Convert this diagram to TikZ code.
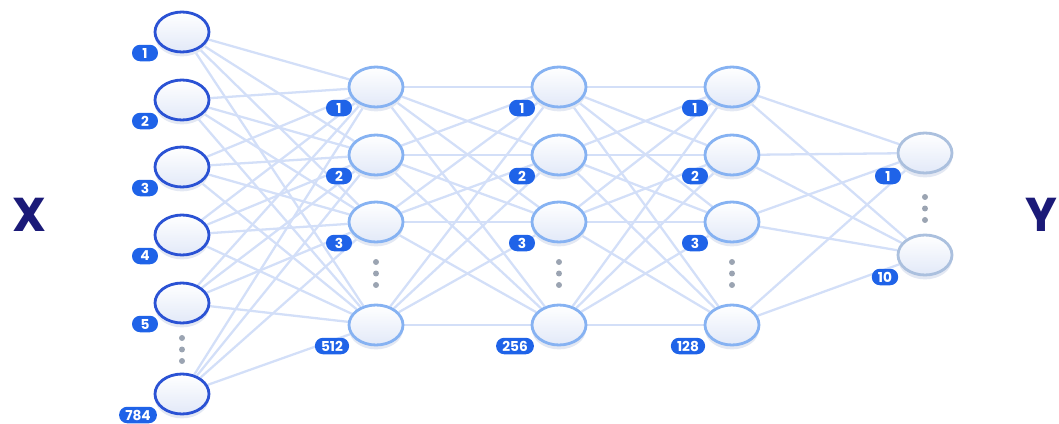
\documentclass[tikz,border=0pt]{standalone}
\usepackage{fontspec}
\setmainfont{Poppins}
\usepackage{tikz}
\usetikzlibrary{calc}
\usetikzlibrary{shapes.geometric}
\usetikzlibrary{shadows}
\usetikzlibrary{backgrounds}
\definecolor{inblue}{HTML}{2A52D4}
\definecolor{hidblue}{HTML}{86B2F2}
\definecolor{outblue}{HTML}{ABC0DE}
\definecolor{edgeblue}{HTML}{D3DFF8}
\definecolor{badgeblue}{HTML}{1F63E8}
\definecolor{navy}{HTML}{1B1A78}
\definecolor{dotgrey}{HTML}{9BA4B2}
\definecolor{nodebottom}{HTML}{E2E9F8}
\definecolor{shadowblue}{HTML}{E3E8F3}
\tikzset{%
  neuron/.style={ellipse, minimum width=1.08cm, minimum height=0.8cm, line width=1.6pt,
    top color=white, bottom color=nodebottom,
    drop shadow={shadow xshift=0pt, shadow yshift=-2.5pt, fill=shadowblue, opacity=1}},
  inneuron/.style={neuron, draw=inblue},
  hidneuron/.style={neuron, draw=hidblue},
  outneuron/.style={neuron, draw=outblue},
  edge/.style={draw=edgeblue, line width=1.3pt},
  badge/.style={rectangle, rounded corners=4.6pt, fill=badgeblue, text=white, minimum height=0.33cm,
    minimum width=0.52cm, inner xsep=3.5pt, inner ysep=0pt, font=\bfseries\fontsize{7.8}{7.8}\selectfont},
  -vdots-/.style={fill=dotgrey, circle, inner sep=0pt, minimum size=3.4pt}}

\begin{document}
\begin{tikzpicture}[x=0.02cm, y=-0.02cm]
\useasboundingbox (0,0) rectangle (1059,423);
\foreach \t/\y [count=\i] in {1/32,2/100,3/167,4/235,5/303,784/394} {
  \node[inneuron] (in\i) at (182,\y) {};
}
\foreach \y [count=\i] in {87,155,222,325} {
  \node[hidneuron] (a\i) at (376,\y) {};
  \node[hidneuron] (b\i) at (559,\y) {};
  \node[hidneuron] (c\i) at (732,\y) {};
}
\node[outneuron] (out1) at (925,153) {};
\node[outneuron] (out2) at (925,255) {};
\begin{pgfonlayer}{background}
\foreach \i in {1,...,6} \foreach \j in {1,...,4} \draw[edge] (in\i) -- (a\j);
\foreach \i in {1,...,4} \foreach \j in {1,...,4} {
  \draw[edge] (a\i) -- (b\j);
  \draw[edge] (b\i) -- (c\j);
}
\foreach \i in {1,...,4} \foreach \j in {1,2} \draw[edge] (c\i) -- (out\j);
\end{pgfonlayer}
\foreach \t [count=\i] in {1,2,3,4,5} \node[badge] (lin\i) at ($(in\i)+(-37,21)$) {\t};
\node[badge] (lin6) at ($(in6)+(-44,21)$) {784};
\foreach \l in {a,b,c} \foreach \i in {1,2,3} \node[badge] (l\l\i) at ($(\l\i)+(-37,21)$) {\i};
\node[badge] (la4) at ($(a4)+(-44,21)$) {512};
\node[badge] (lb4) at ($(b4)+(-44,21)$) {256};
\node[badge] (lc4) at ($(c4)+(-44,21)$) {128};
\node[badge] (lout1) at ($(out1)+(-37,23)$) {1};
\node[badge] (lout2) at ($(out2)+(-40,22)$) {10};
\foreach \x/\y in {182/338, 376/262, 559/262, 732/262, 925/197}
  \foreach \d in {0,11.5,23} \node[-vdots-] at (\x,\y+\d) {};
\node[text=navy, font=\bfseries\fontsize{27}{27}\selectfont] (X) at (29,215) {X};
\node[text=navy, font=\bfseries\fontsize{27}{27}\selectfont] (Y) at (1041,215) {Y};
\end{tikzpicture}
\end{document}
